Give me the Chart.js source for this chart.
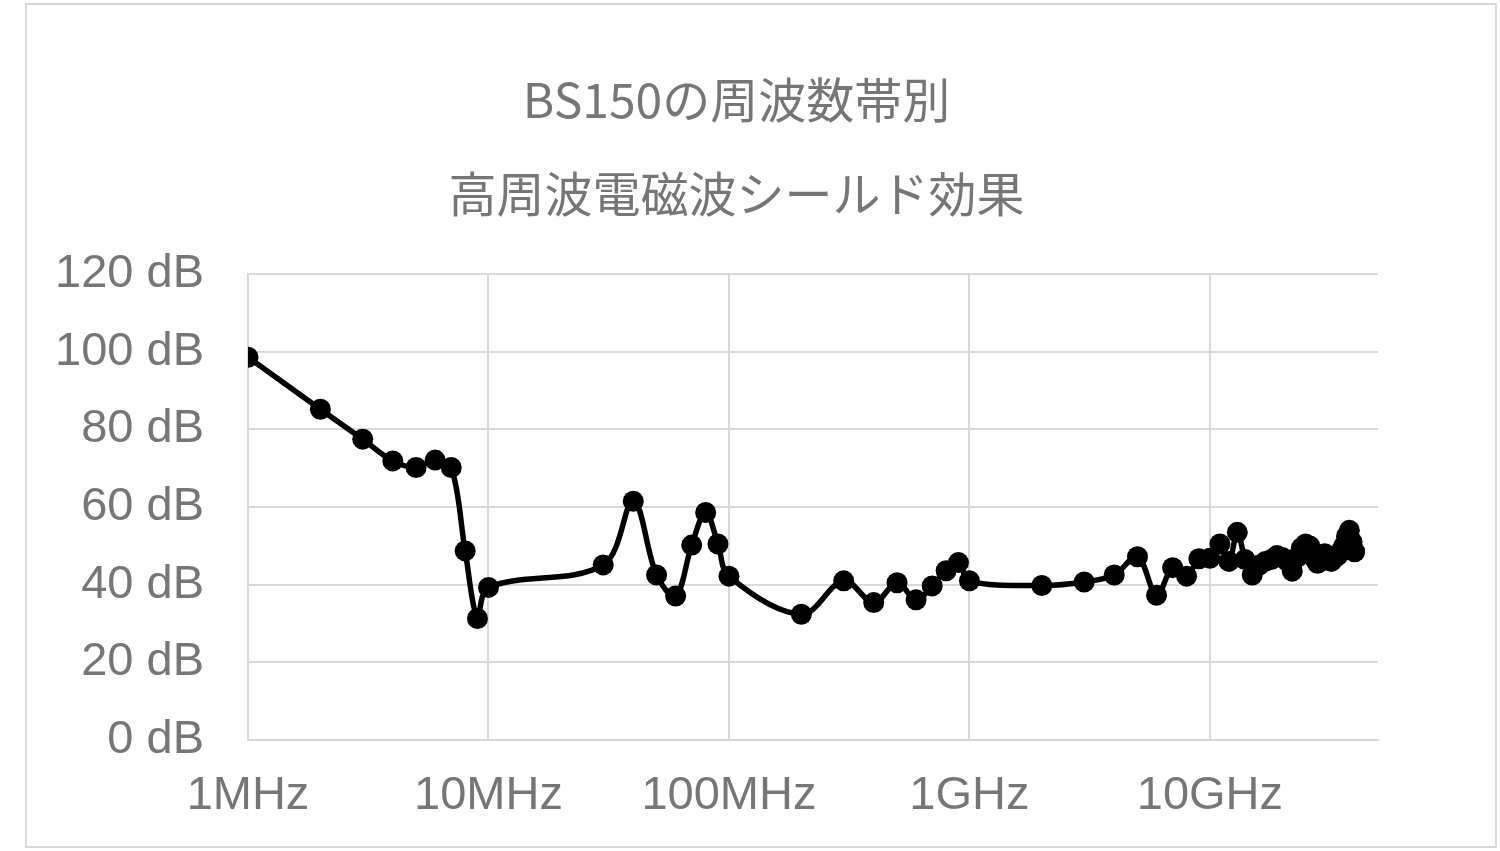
<!DOCTYPE html>
<html>
<head>
<meta charset="utf-8">
<script src="https://cdn.jsdelivr.net/npm/chart.js@4.4.1/dist/chart.umd.min.js"></script>
<style>
  html, body { margin: 0; padding: 0; background: #fff; }
  #wrap { position: relative; width: 1500px; height: 851px; }
  #frame { position: absolute; left: 25px; top: 3px; width: 1472px; height: 845px; box-sizing: border-box; border: 2px solid #d9d9d9; pointer-events: none; }
</style>
</head>
<body>
<div id="wrap">
  <canvas id="myChart" width="1500" height="851"></canvas>
  <div id="frame"></div>
</div>
<script>
// 周波数 (MHz)
const freqMHz = [1, 2, 3, 4, 5, 6, 7, 8, 9, 10,
  30, 40, 50, 60, 70, 80, 90, 100,
  200, 300, 400, 500, 600, 700, 800, 900, 1000,
  2000, 3000, 4000, 5000, 6000, 7000, 8000, 9000, 10000,
  11000, 12000, 13000, 14000, 15000, 16000, 17000, 18000, 19000, 20000,
  21000, 22000, 23000, 24000, 25000, 26000, 27000, 28000, 29000, 30000,
  31000, 32000, 33000, 34000, 35000, 36000, 37000, 38000, 39000, 40000];

// シールド効果 (dB)
const shieldDb = [98.6, 85.2, 77.5, 71.9, 70.2, 72.1, 70.2, 48.7, 31.3, 39.3,
  45.1, 61.5, 42.5, 37.1, 50.2, 58.6, 50.5, 42.2,
  32.4, 41.0, 35.4, 40.5, 36.1, 39.7, 43.6, 45.7, 41.0,
  39.8, 40.7, 42.5, 47.2, 37.3, 44.4, 42.2, 46.7, 46.8,
  50.5, 46.0, 53.5, 46.5, 42.5, 45.0, 46.0, 46.5, 47.5, 47.0,
  46.0, 43.5, 47.0, 49.5, 50.5, 50.0, 47.0, 45.5, 46.0, 48.0,
  46.5, 46.0, 47.0, 47.5, 48.5, 50.0, 52.5, 54.0, 51.0, 48.5];

const xTickValues = [1, 10, 100, 1000, 10000];
const xTickLabels = ['1MHz', '10MHz', '100MHz', '1GHz', '10GHz'];
const titleLines = ['BS150の周波数帯別', '高周波電磁波シールド効果'];

const points = freqMHz.map((f, i) => ({ x: f, y: shieldDb[i] }));
const gray = '#767676';
const gridGray = '#d9d9d9';

// タイトルを枠の中央に寄せる
const centerTitle = {
  id: 'centerTitle',
  afterLayout(chart) {
    if (chart.titleBlock) {
      chart.titleBlock.left = 95;
      chart.titleBlock.right = chart.chartArea.right;
    }
  }
};

new Chart(document.getElementById('myChart').getContext('2d'), {
  type: 'line',
  data: {
    datasets: [{
      data: points,
      borderColor: '#000',
      backgroundColor: '#000',
      borderWidth: 5.5,
      pointRadius: 10.5,
      pointBorderWidth: 0,
      tension: 0.35,
      fill: false
    }]
  },
  options: {
    responsive: false,
    animation: false,
    layout: { padding: { left: 0, right: 122, top: 53, bottom: 0 } },
    plugins: {
      legend: { display: false },
      tooltip: { enabled: false },
      title: {
        display: true,
        text: titleLines,
        color: gray,
        font: { family: '"Noto Sans CJK JP", sans-serif', size: 48, weight: 'normal', lineHeight: 1.96 },
        padding: { top: 0, bottom: 33 }
      }
    },
    scales: {
      x: {
        type: 'logarithmic',
        min: 1,
        max: 50000,
        afterBuildTicks: (scale) => { scale.ticks = xTickValues.map(v => ({ value: v })); },
        afterFit: (scale) => { scale.height = 111; },
        ticks: {
          color: gray,
          autoSkip: false,
          maxRotation: 0,
          padding: 28,
          font: { family: '"Liberation Sans", Arial, sans-serif', size: 47 },
          callback: (v) => {
            const i = xTickValues.indexOf(v);
            return i >= 0 ? xTickLabels[i] : '';
          }
        },
        grid: { color: gridGray, lineWidth: 2, drawTicks: false },
        border: { color: gridGray, width: 2 }
      },
      y: {
        min: 0,
        max: 120,
        afterFit: (scale) => { scale.width = 248; },
        ticks: {
          stepSize: 20,
          color: gray,
          padding: 44,
          font: { family: '"Liberation Sans", Arial, sans-serif', size: 47 },
          callback: (v) => v + ' dB'
        },
        grid: { color: gridGray, lineWidth: 2, drawTicks: false },
        border: { color: gridGray, width: 2 }
      }
    }
  },
  plugins: [centerTitle]
});
</script>
</body>
</html>
